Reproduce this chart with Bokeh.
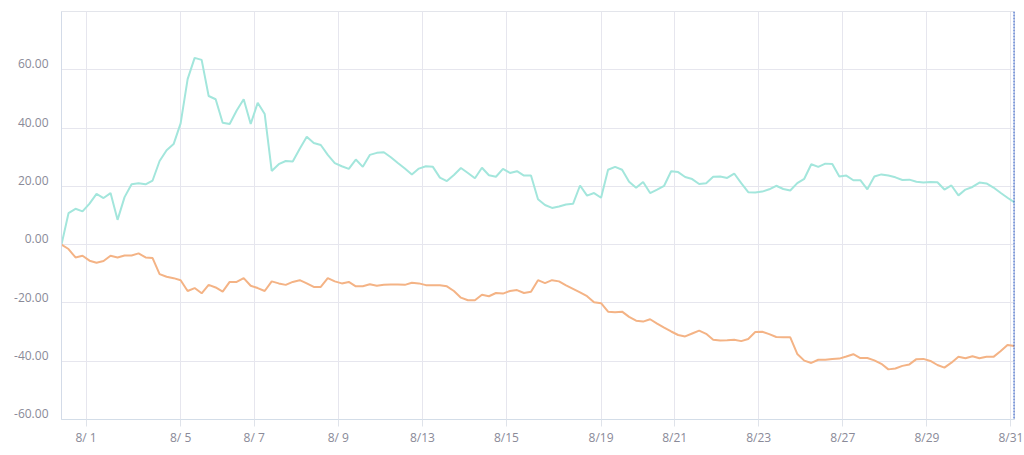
from bokeh.plotting import figure
from bokeh.models import Range1d, FixedTicker, Span
from bokeh.embed import file_html
from bokeh.resources import INLINE

# ---- data -------------------------------------------------------------
series_a = [
    0.0, 10.8, 12.3, 11.4, 14.1, 17.4, 16.0, 17.7, 8.5, 16.3,
    20.7, 21.1, 20.7, 22.0, 28.7, 32.4, 34.5, 41.6, 56.8, 64.1,
    63.4, 51.0, 49.9, 41.8, 41.4, 46.0, 49.9, 41.4, 48.7, 44.8,
    25.3, 27.6, 28.7, 28.5, 32.9, 37.0, 34.9, 34.2, 30.8, 28.0,
    26.9, 26.0, 29.2, 26.7, 30.8, 31.5, 31.7, 30.0, 28.0, 26.1,
    24.1, 26.1, 26.9, 26.7, 23.0, 21.8, 23.9, 26.3, 24.6, 22.8,
    26.4, 23.8, 23.3, 26.0, 24.6, 25.2, 23.7, 23.7, 15.6, 13.6,
    12.6, 13.1, 13.8, 14.0, 20.3, 16.8, 17.7, 16.1, 25.7, 26.7,
    25.7, 21.6, 19.5, 21.5, 17.7, 18.9, 20.2, 25.2, 24.9, 23.2,
    22.5, 20.8, 21.1, 23.3, 23.4, 22.9, 24.4, 21.1, 18.0, 17.9,
    18.2, 19.0, 20.2, 19.1, 18.6, 21.1, 22.6, 27.6, 26.7, 27.8,
    27.7, 23.4, 23.7, 22.1, 22.1, 19.0, 23.4, 24.1, 23.7, 23.1,
    22.2, 22.3, 21.6, 21.3, 21.5, 21.4, 18.9, 20.3, 16.9, 18.9,
    19.8, 21.3, 21.0, 19.6, 17.8, 16.1, 14.5,
]

series_b = [
    0.0, -1.5, -4.4, -3.8, -5.5, -6.2, -5.6, -3.8, -4.4, -3.7,
    -3.7, -3.0, -4.4, -4.6, -10.1, -11.0, -11.5, -12.2, -15.9, -14.9,
    -16.7, -13.8, -14.7, -16.1, -12.8, -12.8, -11.5, -14.1, -14.9, -15.9,
    -12.6, -13.3, -13.8, -12.8, -12.2, -13.3, -14.5, -14.5, -11.5, -12.6,
    -13.3, -12.8, -14.3, -14.3, -13.6, -14.1, -13.8, -13.7, -13.7, -13.8,
    -13.1, -13.3, -13.9, -13.9, -13.9, -14.3, -15.9, -18.2, -19.1, -19.1,
    -17.2, -17.7, -16.6, -16.8, -15.9, -15.6, -16.6, -16.2, -12.2, -13.2,
    -12.2, -12.6, -14.0, -15.2, -16.4, -17.7, -19.8, -20.1, -23.0, -23.2,
    -23.0, -24.8, -26.1, -26.4, -25.6, -27.1, -28.5, -29.8, -31.0, -31.5,
    -30.5, -29.5, -30.6, -32.6, -32.9, -32.8, -32.6, -33.1, -32.4, -30.0,
    -29.9, -30.7, -31.7, -31.8, -31.8, -37.5, -39.8, -40.6, -39.5, -39.5,
    -39.2, -39.1, -38.4, -37.6, -38.9, -38.9, -39.7, -40.9, -42.8, -42.5,
    -41.6, -41.1, -39.3, -39.2, -39.9, -41.3, -42.2, -40.5, -38.5, -39.0,
    -38.3, -39.0, -38.5, -38.5, -36.6, -34.4, -34.8,
]

x_tick_positions = [3.5, 17, 27.5, 39.5, 51.5, 63.5, 77, 87.5, 99.5, 111.5, 123.5, 135.5]
x_tick_labels = ["8/ 1", "8/ 5", "8/ 7", "8/ 9", "8/13", "8/15",
                 "8/19", "8/21", "8/23", "8/27", "8/29", "8/31"]

y_ticks = [-60, -40, -20, 0, 20, 40, 60]
y_tick_labels = ["-60.00", "-40.00", "-20.00", "0.00", "20.00", "40.00", "60.00"]

assert len(series_a) == len(series_b)
idx = list(range(len(series_a)))

# ---- figure -----------------------------------------------------------
p = figure(width=1024, height=455, output_backend="svg", toolbar_location=None,
           x_range=Range1d(0, len(idx) - 1), y_range=Range1d(-60, 80),
           min_border_left=61, min_border_right=10, min_border_top=11,
           min_border_bottom=36)
p.background_fill_color = "white"
p.border_fill_color = "white"
p.outline_line_color = "#e3e5eb"

LABEL_COLOR = "#8a8a98"
FONT = "Open Sans"
FSIZE = "12px"

# x axis
p.xaxis.ticker = FixedTicker(ticks=x_tick_positions)
p.xaxis.major_label_overrides = dict(zip(x_tick_positions, x_tick_labels))
p.xaxis.axis_line_color = "#d3dde8"
p.xaxis.major_tick_line_color = "#dfe3ea"
p.xaxis.major_tick_out = 7
p.xaxis.major_tick_in = 0
p.xaxis.minor_tick_line_color = None
p.xaxis.major_label_standoff = 2
p.xaxis.major_label_text_font = FONT
p.xaxis.major_label_text_font_size = FSIZE
p.xaxis.major_label_text_color = LABEL_COLOR

# y axis: labels sit slightly above their grid lines
label_shift = 2.0
shifted = [t + label_shift for t in y_ticks]
p.yaxis.ticker = FixedTicker(ticks=shifted)
p.yaxis.major_label_overrides = dict(zip(shifted, y_tick_labels))
p.yaxis.axis_line_color = "#d3dbe8"
p.yaxis.major_tick_line_color = None
p.yaxis.major_tick_out = 0
p.yaxis.major_tick_in = 0
p.yaxis.minor_tick_line_color = None
p.yaxis.major_label_standoff = 13
p.yaxis.major_label_text_font = FONT
p.yaxis.major_label_text_font_size = FSIZE
p.yaxis.major_label_text_color = LABEL_COLOR

# grids
p.xgrid.ticker = FixedTicker(ticks=x_tick_positions)
p.ygrid.ticker = FixedTicker(ticks=y_ticks)
p.xgrid.grid_line_color = "#e6e6ee"
p.ygrid.grid_line_color = "#e6e6ee"
p.xgrid.grid_line_width = 1
p.ygrid.grid_line_width = 1

# lines
p.line(idx, series_a, line_color="#a3e6dc", line_width=2)
p.line(idx, series_b, line_color="#f4b385", line_width=2)

# dotted marker at the right edge
p.add_layout(Span(location=len(idx) - 1, dimension="height",
                  line_color="#1f4fc4", line_dash="2 1", line_width=2))

open("out.html", "w").write(file_html(p, INLINE))
